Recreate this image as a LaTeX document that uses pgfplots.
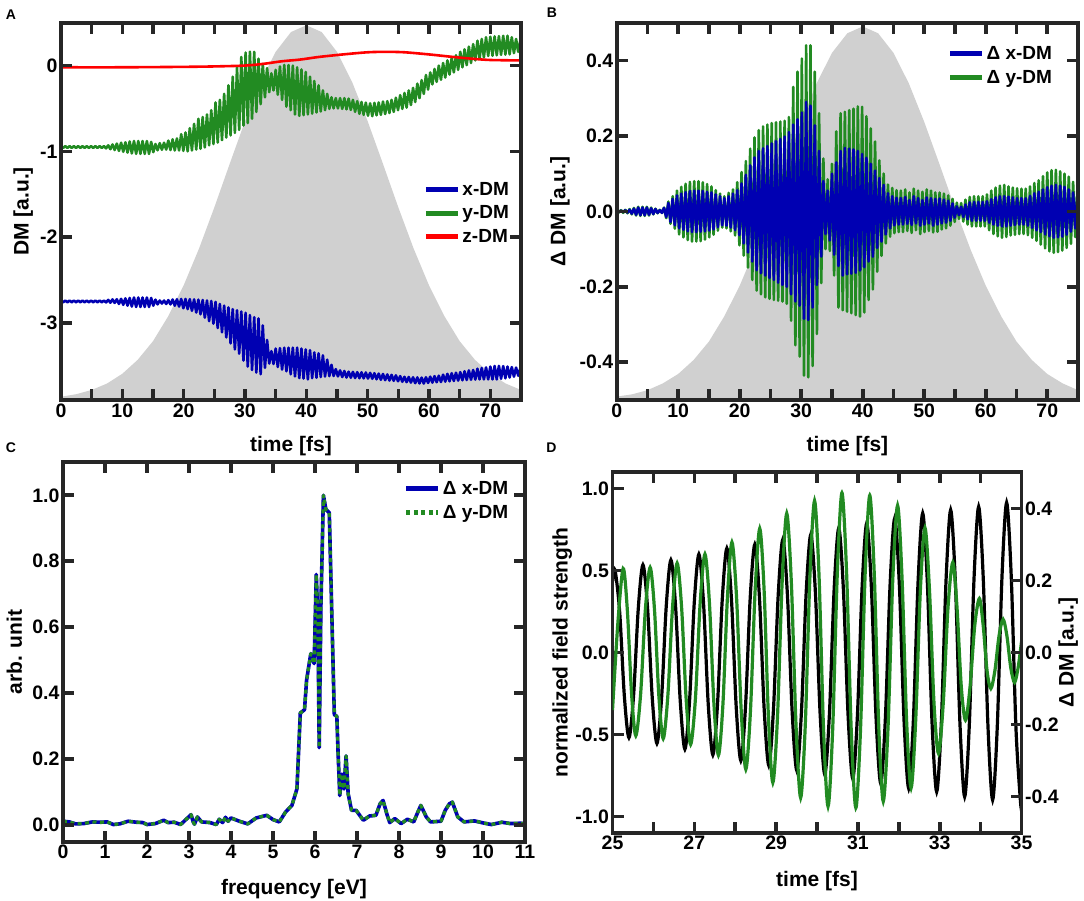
\documentclass[border=0pt]{standalone}
\usepackage{fontspec}
\setmainfont{Liberation Sans}
\usepackage{pgfplots}
\pgfplotsset{compat=1.18}
\usepackage{pgfplotstable}
\definecolor{fr}{RGB}{38,38,38}
\definecolor{cblue}{RGB}{0,0,178}
\definecolor{cgreen}{RGB}{34,139,34}
\definecolor{cred}{RGB}{255,0,0}
\definecolor{cgray}{RGB}{208,208,208}
\tikzset{labfont/.style={font=\fontsize{21}{24}\selectfont\bfseries, color=black}}
\pgfplotsset{
 myax/.style={scale only axis, axis on top,
   axis line style={line width=3.8pt, color=fr},
   every tick/.append style={line width=3.6pt, color=fr},
   major tick length=11pt, minor tick length=11pt,
   tick align=inside,
   tick label style={font=\fontsize{19.5}{22}\selectfont\bfseries, color=black},
   /pgf/number format/assume math mode=true,
   legend style={draw=none, fill=none, font=\fontsize{19}{22}\selectfont\bfseries, cells={anchor=west}, row sep=5pt},
   legend image code/.code={\draw[#1, line width=5pt] (0pt,0pt) -- (32pt,0pt);},
 }
}
\begin{document}
\pgfplotstableread{
t ax ay bx by
0.00 -2.74 -0.94 0.002 0.003
0.35 -2.76 -0.96 -0.002 -0.003
0.70 -2.74 -0.94 0.002 0.003
1.05 -2.76 -0.96 -0.002 -0.004
1.40 -2.74 -0.94 0.003 0.004
1.75 -2.76 -0.96 -0.003 -0.005
2.10 -2.74 -0.94 0.004 0.006
2.45 -2.76 -0.96 -0.006 -0.008
2.80 -2.74 -0.94 0.007 0.009
3.15 -2.76 -0.96 -0.009 -0.011
3.50 -2.74 -0.94 0.010 0.012
3.85 -2.76 -0.96 -0.010 -0.012
4.20 -2.74 -0.94 0.010 0.012
4.55 -2.76 -0.96 -0.010 -0.012
4.90 -2.74 -0.94 0.010 0.012
5.25 -2.76 -0.96 -0.009 -0.011
5.60 -2.74 -0.94 0.008 0.010
5.95 -2.76 -0.96 -0.007 -0.008
6.30 -2.74 -0.94 0.006 0.007
6.65 -2.76 -0.96 -0.004 -0.005
7.00 -2.74 -0.94 0.003 0.004
7.35 -2.762 -0.965 -0.004 -0.004
7.70 -2.733 -0.93 0.009 0.010
8.05 -2.765 -0.975 -0.015 -0.018
8.40 -2.727 -0.92 0.022 0.026
8.75 -2.768 -0.985 -0.028 -0.033
9.10 -2.725 -0.91 0.033 0.040
9.45 -2.78 -0.995 -0.037 -0.046
9.80 -2.72 -0.90 0.042 0.055
10.15 -2.79 -1.005 -0.045 -0.061
10.50 -2.715 -0.895 0.047 0.065
10.85 -2.80 -1.015 -0.049 -0.069
11.20 -2.71 -0.885 0.051 0.073
11.55 -2.81 -1.025 -0.053 -0.076
11.90 -2.705 -0.88 0.054 0.078
12.25 -2.815 -1.03 -0.055 -0.080
12.60 -2.705 -0.88 0.055 0.080
12.95 -2.815 -1.03 -0.055 -0.080
13.30 -2.705 -0.88 0.055 0.080
13.65 -2.815 -1.03 -0.054 -0.079
14.00 -2.705 -0.88 0.054 0.077
14.35 -2.815 -1.03 -0.053 -0.075
14.70 -2.71 -0.89 0.052 0.072
15.05 -2.80 -1.01 -0.051 -0.069
15.40 -2.73 -0.915 0.050 0.066
15.75 -2.785 -0.988 -0.048 -0.062
16.10 -2.74 -0.905 0.045 0.056
16.45 -2.775 -0.982 -0.042 -0.051
16.80 -2.74 -0.90 0.040 0.047
17.15 -2.78 -0.98 -0.037 -0.043
17.50 -2.735 -0.875 0.035 0.040
17.85 -2.785 -0.985 -0.038 -0.045
18.20 -2.728 -0.86 0.040 0.049
18.55 -2.80 -0.99 -0.043 -0.053
18.90 -2.725 -0.85 0.047 0.058
19.25 -2.81 -0.99 -0.050 -0.064
19.60 -2.722 -0.80 0.056 0.077
19.95 -2.83 -0.995 -0.063 -0.090
20.30 -2.722 -0.78 0.074 0.104
20.65 -2.84 -1.00 -0.085 -0.117
21.00 -2.724 -0.73 0.097 0.133
21.35 -2.86 -0.99 -0.109 -0.149
21.70 -2.727 -0.68 0.122 0.166
22.05 -2.88 -0.98 -0.133 -0.182
22.40 -2.73 -0.62 0.143 0.196
22.75 -2.90 -0.97 -0.156 -0.210
23.10 -2.734 -0.60 0.160 0.215
23.45 -2.94 -0.955 -0.164 -0.220
23.80 -2.74 -0.57 0.167 0.225
24.15 -2.98 -0.93 -0.170 -0.228
24.50 -2.745 -0.52 0.173 0.230
24.85 -3.01 -0.915 -0.177 -0.232
25.20 -2.756 -0.43 0.180 0.234
25.55 -3.06 -0.898 -0.182 -0.235
25.90 -2.78 -0.40 0.186 0.236
26.25 -3.11 -0.87 -0.189 -0.237
26.60 -2.80 -0.33 0.192 0.238
26.95 -3.17 -0.84 -0.195 -0.239
27.30 -2.82 -0.23 0.198 0.240
27.65 -3.24 -0.815 -0.200 -0.245
28.00 -2.84 -0.13 0.210 0.250
28.35 -3.31 -0.785 -0.220 -0.290
28.70 -2.854 -0.02 0.230 0.330
29.05 -3.36 -0.75 -0.239 -0.355
29.40 -2.868 0.10 0.244 0.370
29.75 -3.44 -0.70 -0.250 -0.385
30.10 -2.883 0.152 0.262 0.405
30.45 -3.51 -0.67 -0.285 -0.435
30.80 -2.91 0.162 0.290 0.440
31.15 -3.55 -0.62 -0.288 -0.440
31.50 -2.935 0.16 0.280 0.440
31.85 -3.58 -0.54 -0.255 -0.410
32.20 -2.95 0.08 0.228 0.370
32.55 -3.60 -0.45 -0.195 -0.325
32.90 -3.03 0.02 0.160 0.260
33.25 -3.525 -0.37 -0.120 -0.190
33.60 -3.20 -0.03 0.080 0.140
33.95 -3.475 -0.31 -0.060 -0.100
34.30 -3.33 -0.09 0.055 0.085
34.65 -3.48 -0.29 -0.077 -0.105
35.00 -3.30 -0.05 0.100 0.126
35.35 -3.515 -0.34 -0.115 -0.170
35.70 -3.295 -0.01 0.130 0.212
36.05 -3.545 -0.40 -0.145 -0.255
36.40 -3.29 0.008 0.160 0.260
36.75 -3.565 -0.48 -0.170 -0.262
37.10 -3.29 0.006 0.168 0.264
37.45 -3.60 -0.52 -0.167 -0.266
37.80 -3.29 0.00 0.166 0.268
38.15 -3.625 -0.57 -0.165 -0.270
38.50 -3.29 -0.02 0.164 0.272
38.85 -3.645 -0.587 -0.163 -0.275
39.20 -3.30 -0.045 0.160 0.278
39.55 -3.65 -0.578 -0.157 -0.279
39.90 -3.31 -0.075 0.152 0.277
40.25 -3.66 -0.57 -0.148 -0.268
40.60 -3.32 -0.13 0.142 0.252
40.95 -3.645 -0.56 -0.133 -0.235
41.30 -3.345 -0.18 0.126 0.220
41.65 -3.64 -0.547 -0.120 -0.207
42.00 -3.355 -0.23 0.108 0.185
42.35 -3.632 -0.535 -0.097 -0.160
42.70 -3.38 -0.29 0.088 0.135
43.05 -3.626 -0.52 -0.080 -0.118
43.40 -3.43 -0.33 0.070 0.100
43.75 -3.622 -0.505 -0.061 -0.085
44.10 -3.49 -0.37 0.048 0.071
44.45 -3.62 -0.50 -0.045 -0.067
44.80 -3.54 -0.38 0.040 0.062
45.15 -3.625 -0.50 -0.037 -0.058
45.50 -3.555 -0.38 0.036 0.056
45.85 -3.632 -0.505 -0.035 -0.055
46.20 -3.562 -0.38 0.035 0.055
46.55 -3.638 -0.51 -0.035 -0.055
46.90 -3.57 -0.385 0.038 0.058
47.25 -3.64 -0.517 -0.033 -0.052
47.60 -3.572 -0.40 0.030 0.050
47.95 -3.644 -0.54 -0.036 -0.057
48.30 -3.575 -0.415 0.040 0.060
48.65 -3.646 -0.562 -0.032 -0.050
49.00 -3.577 -0.425 0.035 0.055
49.35 -3.648 -0.575 -0.038 -0.060
49.70 -3.579 -0.432 0.030 0.052
50.05 -3.650 -0.585 -0.035 -0.055
50.40 -3.583 -0.44 0.037 0.058
50.75 -3.652 -0.59 -0.032 -0.052
51.10 -3.588 -0.435 0.035 0.055
51.45 -3.658 -0.58 -0.038 -0.056
51.80 -3.592 -0.43 0.033 0.050
52.15 -3.664 -0.574 -0.035 -0.054
52.50 -3.597 -0.42 0.034 0.050
52.85 -3.669 -0.565 -0.032 -0.048
53.20 -3.602 -0.415 0.031 0.047
53.55 -3.673 -0.553 -0.030 -0.045
53.90 -3.607 -0.40 0.028 0.042
54.25 -3.676 -0.54 -0.025 -0.038
54.60 -3.612 -0.375 0.021 0.033
54.95 -3.681 -0.52 -0.017 -0.028
55.30 -3.622 -0.345 0.013 0.023
55.65 -3.687 -0.505 -0.010 -0.020
56.00 -3.630 -0.32 0.012 0.022
56.35 -3.692 -0.49 -0.015 -0.027
56.70 -3.632 -0.29 0.018 0.031
57.05 -3.697 -0.46 -0.021 -0.035
57.40 -3.635 -0.26 0.024 0.038
57.75 -3.704 -0.425 -0.025 -0.040
58.10 -3.637 -0.21 0.025 0.040
58.45 -3.707 -0.38 -0.025 -0.040
58.80 -3.639 -0.17 0.025 0.040
59.15 -3.708 -0.33 -0.025 -0.040
59.50 -3.635 -0.11 0.025 0.040
59.85 -3.701 -0.28 -0.025 -0.040
60.20 -3.628 -0.08 0.027 0.045
60.55 -3.697 -0.22 -0.030 -0.050
60.90 -3.622 -0.04 0.032 0.055
61.25 -3.693 -0.19 -0.035 -0.060
61.60 -3.617 0.00 0.037 0.063
61.95 -3.690 -0.165 -0.038 -0.066
62.30 -3.605 0.03 0.040 0.068
62.65 -3.686 -0.14 -0.040 -0.070
63.00 -3.595 0.06 0.040 0.070
63.35 -3.682 -0.105 -0.040 -0.068
63.70 -3.588 0.09 0.039 0.066
64.05 -3.678 -0.08 -0.038 -0.064
64.40 -3.582 0.12 0.037 0.063
64.75 -3.674 -0.05 -0.036 -0.062
65.10 -3.575 0.16 0.035 0.061
65.45 -3.67 -0.02 -0.035 -0.060
65.80 -3.565 0.19 0.035 0.060
66.15 -3.667 0.005 -0.035 -0.060
66.50 -3.555 0.22 0.035 0.060
66.85 -3.664 0.03 -0.038 -0.063
67.20 -3.55 0.25 0.041 0.066
67.55 -3.662 0.06 -0.044 -0.070
67.90 -3.535 0.29 0.048 0.075
68.25 -3.66 0.08 -0.050 -0.078
68.60 -3.527 0.31 0.052 0.082
68.95 -3.66 0.095 -0.055 -0.088
69.30 -3.52 0.33 0.058 0.093
69.65 -3.66 0.112 -0.061 -0.098
70.00 -3.51 0.336 0.064 0.103
70.35 -3.66 0.115 -0.066 -0.106
70.70 -3.503 0.34 0.068 0.109
71.05 -3.66 0.12 -0.070 -0.110
71.40 -3.502 0.343 0.070 0.110
71.75 -3.653 0.125 -0.069 -0.108
72.10 -3.505 0.347 0.068 0.106
72.45 -3.647 0.128 -0.067 -0.104
72.80 -3.51 0.348 0.065 0.100
73.15 -3.638 0.131 -0.062 -0.097
73.50 -3.516 0.33 0.058 0.092
73.85 -3.628 0.145 -0.054 -0.086
74.20 -3.522 0.31 0.050 0.078
74.55 -3.617 0.16 -0.045 -0.068
74.90 -3.53 0.29 0.041 0.061
75.25 -3.61 0.17 -0.040 -0.060
}\datAB
\begin{tikzpicture}
\path[use as bounding box] (0,0) rectangle (1084pt,900pt);
% ---------- A ----------
\begin{axis}[myax, at={(61pt,500pt)}, anchor=south west, width=460pt, height=377.3pt,
  xmin=0, xmax=75, ymin=-3.9, ymax=0.5,
  xtick={0,10,...,70}, minor xtick={5,15,...,75},
  ytick={-3,-2,-1,0}, yticklabels={-3,-2,-1,0},
  xlabel={time [fs]}, ylabel={DM [a.u.]},
  every axis x label/.style={at={(axis description cs:0.5,-0.122)}, anchor=center, labfont},
  every axis y label/.style={at={(axis description cs:-0.082,0.5)}, rotate=90, anchor=center, labfont},
  legend style={at={(axis description cs:0.985,0.588)}, anchor=north east}]
\addplot[draw=none, fill=cgray, forget plot] coordinates {(0,-3.9)(0,-3.862)(2.5,-3.832)(5,-3.783)(7.5,-3.708)(10,-3.594)(12.5,-3.432)(15,-3.214)(17.5,-2.921)(20,-2.563)(22.5,-2.135)(25,-1.654)(27.5,-1.147)(30,-0.649)(32.5,-0.198)(35,0.160)(37.5,0.391)(40,0.47)(42.5,0.391)(45,0.160)(47.5,-0.198)(50,-0.649)(52.5,-1.147)(55,-1.654)(57.5,-2.135)(60,-2.563)(62.5,-2.921)(65,-3.214)(67.5,-3.432)(70,-3.594)(72.5,-3.708)(75,-3.783)(75,-3.9)} -- cycle;
\addplot[cblue, line width=2.6pt, line join=round, no marks] table[x=t, y=ax] {\datAB};
\addlegendentry{x-DM}
\addplot[cgreen, line width=2.6pt, line join=round, no marks] table[x=t, y=ay] {\datAB};
\addlegendentry{y-DM}
\addplot[cred, line width=2.6pt, smooth, no marks] coordinates {(0,-0.02)(10,-0.02)(20,-0.015)(25,-0.01)(30,0.0)(33,0.02)(36,0.05)(39,0.07)(42,0.10)(46,0.13)(50,0.155)(53,0.16)(56,0.155)(60,0.13)(64,0.10)(67,0.08)(70,0.065)(75,0.06)};
\addlegendentry{z-DM}
\end{axis}
% ---------- B ----------
\begin{axis}[myax, at={(616.7pt,500pt)}, anchor=south west, width=461.3pt, height=377.3pt,
  xmin=0, xmax=75, ymin=-0.5, ymax=0.5,
  xtick={0,10,...,70}, minor xtick={5,15,...,75},
  ytick={-0.4,-0.2,0,0.2,0.4}, yticklabels={-0.4,-0.2,0.0,0.2,0.4},
  xlabel={time [fs]}, ylabel={Δ DM [a.u.]},
  every axis x label/.style={at={(axis description cs:0.5,-0.122)}, anchor=center, labfont},
  every axis y label/.style={at={(axis description cs:-0.123,0.5)}, rotate=90, anchor=center, labfont},
  legend style={at={(axis description cs:0.955,0.948)}, anchor=north east}, reverse legend]
\addplot[draw=none, fill=cgray, forget plot] coordinates {(0,-0.5)(0,-0.491)(2.5,-0.485)(5,-0.474)(7.5,-0.456)(10,-0.431)(12.5,-0.394)(15,-0.345)(17.5,-0.278)(20,-0.197)(22.5,-0.100)(25,0.009)(27.5,0.124)(30,0.237)(32.5,0.339)(35,0.420)(37.5,0.472)(40,0.49)(42.5,0.472)(45,0.420)(47.5,0.339)(50,0.237)(52.5,0.124)(55,0.009)(57.5,-0.100)(60,-0.197)(62.5,-0.278)(65,-0.345)(67.5,-0.394)(70,-0.431)(72.5,-0.456)(75,-0.474)(75,-0.5)} -- cycle;
\addplot[cgreen, line width=2.6pt, line join=round, no marks] table[x=t, y=by] {\datAB};
\addlegendentry{Δ y-DM}
\addplot[cblue, line width=2.6pt, line join=round, no marks] table[x=t, y=bx] {\datAB};
\addlegendentry{Δ x-DM}
\end{axis}
% ---------- C ----------
\begin{axis}[myax, at={(63pt,58.3pt)}, anchor=south west, width=462pt, height=379.4pt,
  xmin=0, xmax=11, ymin=-0.05, ymax=1.1,
  xtick={0,1,...,11},
  ytick={0,0.2,0.4,0.6,0.8,1}, yticklabels={0.0,0.2,0.4,0.6,0.8,1.0},
  xlabel={frequency [eV]}, ylabel={arb. unit},
  every axis x label/.style={at={(axis description cs:0.5,-0.125)}, anchor=center, labfont},
  every axis y label/.style={at={(axis description cs:-0.105,0.5)}, rotate=90, anchor=center, labfont},
  legend style={at={(axis description cs:0.975,0.96)}, anchor=north east}]
\addplot[cblue, line width=3.6pt, line join=round, no marks] coordinates {(0,0.012)(0.15,0.01)(0.3,0.004)(0.5,0.005)(0.7,0.01)(0.9,0.009)(1.05,0.01)(1.2,0.002)(1.35,0.004)(1.55,0.012)(1.75,0.009)(1.9,0.008)(2.0,0.002)(2.2,0.005)(2.4,0.015)(2.5,0.008)(2.65,0.009)(2.8,0.002)(2.95,0.02)(3.05,0.032)(3.1,0.01)(3.13,0.003)(3.2,0.025)(3.3,0.01)(3.5,0.008)(3.65,0.002)(3.72,0.018)(3.8,0.008)(3.87,0.024)(3.93,0.012)(4.0,0.022)(4.2,0.012)(4.4,0.004)(4.6,0.022)(4.85,0.03)(5.0,0.017)(5.15,0.01)(5.3,0.04)(5.45,0.06)(5.57,0.11)(5.65,0.34)(5.75,0.35)(5.8,0.44)(5.9,0.52)(5.98,0.49)(6.03,0.76)(6.07,0.62)(6.1,0.235)(6.14,0.66)(6.2,1.0)(6.26,0.957)(6.34,0.947)(6.42,0.54)(6.46,0.335)(6.52,0.33)(6.55,0.218)(6.59,0.09)(6.64,0.155)(6.69,0.11)(6.74,0.21)(6.79,0.095)(6.87,0.045)(6.98,0.045)(7.15,0.015)(7.3,0.028)(7.45,0.03)(7.55,0.065)(7.62,0.075)(7.72,0.03)(7.78,0.008)(7.9,0.02)(8.05,0.005)(8.2,0.018)(8.35,0.01)(8.45,0.04)(8.52,0.06)(8.65,0.025)(8.75,0.01)(9.0,0.012)(9.1,0.045)(9.2,0.065)(9.27,0.07)(9.4,0.025)(9.55,0.01)(9.8,0.013)(10.0,0.007)(10.2,0.002)(10.45,0.009)(10.65,0.005)(10.9,0.006)(11,0.004)};
\addlegendentry{Δ x-DM}
\addplot[cgreen, line width=3.2pt, dash pattern=on 4pt off 3.5pt, line join=round, no marks] coordinates {(0,0.012)(0.15,0.01)(0.3,0.004)(0.5,0.005)(0.7,0.01)(0.9,0.009)(1.05,0.01)(1.2,0.002)(1.35,0.004)(1.55,0.012)(1.75,0.009)(1.9,0.008)(2.0,0.002)(2.2,0.005)(2.4,0.015)(2.5,0.008)(2.65,0.009)(2.8,0.002)(2.95,0.02)(3.05,0.032)(3.1,0.01)(3.13,0.003)(3.2,0.025)(3.3,0.01)(3.5,0.008)(3.65,0.002)(3.72,0.018)(3.8,0.008)(3.87,0.024)(3.93,0.012)(4.0,0.022)(4.2,0.012)(4.4,0.004)(4.6,0.022)(4.85,0.03)(5.0,0.017)(5.15,0.01)(5.3,0.04)(5.45,0.06)(5.57,0.11)(5.65,0.34)(5.75,0.35)(5.8,0.44)(5.9,0.52)(5.98,0.49)(6.03,0.76)(6.07,0.62)(6.1,0.235)(6.14,0.66)(6.2,1.0)(6.26,0.957)(6.34,0.947)(6.42,0.54)(6.46,0.335)(6.52,0.33)(6.55,0.218)(6.59,0.09)(6.64,0.155)(6.69,0.11)(6.74,0.21)(6.79,0.095)(6.87,0.045)(6.98,0.045)(7.15,0.015)(7.3,0.028)(7.45,0.03)(7.55,0.065)(7.62,0.075)(7.72,0.03)(7.78,0.008)(7.9,0.02)(8.05,0.005)(8.2,0.018)(8.35,0.01)(8.45,0.04)(8.52,0.06)(8.65,0.025)(8.75,0.01)(9.0,0.012)(9.1,0.045)(9.2,0.065)(9.27,0.07)(9.4,0.025)(9.55,0.01)(9.8,0.013)(10.0,0.007)(10.2,0.002)(10.45,0.009)(10.65,0.005)(10.9,0.006)(11,0.004)};
\addlegendentry{Δ y-DM}
\end{axis}
% ---------- D ----------
\begin{axis}[myax, at={(612.5pt,67.3pt)}, anchor=south west, width=409pt, height=360.4pt,
  xmin=25, xmax=35, ymin=-1.1, ymax=1.1, ytick pos=left,
  xtick={25,27,...,35}, minor xtick={26,28,...,34},
  ytick={-1,-0.5,0,0.5,1}, yticklabels={-1.0,-0.5,0.0,0.5,1.0},
  xlabel={time [fs]}, ylabel={normalized field strength},
  every axis x label/.style={at={(axis description cs:0.5,-0.134)}, anchor=center, labfont},
  every axis y label/.style={at={(axis description cs:-0.123,0.5)}, rotate=90, anchor=center, labfont}]
\addplot[black, line width=3.2pt, smooth, no marks] coordinates {(25.0,0.43)(25.06,0.504)(25.174,0.252)(25.288,-0.26)(25.402,-0.52)(25.516,-0.26)(25.63,0.268)(25.744,0.535)(25.858,0.268)(25.972,-0.278)(26.086,-0.555)(26.2,-0.278)(26.314,0.283)(26.428,0.565)(26.542,0.283)(26.656,-0.295)(26.77,-0.59)(26.884,-0.295)(26.998,0.30)(27.112,0.60)(27.226,0.30)(27.34,-0.313)(27.454,-0.625)(27.568,-0.313)(27.682,0.318)(27.796,0.636)(27.91,0.318)(28.024,-0.33)(28.138,-0.66)(28.252,-0.33)(28.366,0.33)(28.48,0.66)(28.594,0.33)(28.708,-0.345)(28.822,-0.69)(28.936,-0.345)(29.05,0.345)(29.164,0.69)(29.278,0.345)(29.392,-0.36)(29.506,-0.72)(29.62,-0.36)(29.734,0.36)(29.848,0.72)(29.962,0.36)(30.076,-0.373)(30.19,-0.745)(30.304,-0.373)(30.418,0.38)(30.532,0.76)(30.646,0.38)(30.76,-0.385)(30.874,-0.77)(30.988,-0.385)(31.102,0.395)(31.216,0.79)(31.33,0.395)(31.444,-0.40)(31.558,-0.80)(31.672,-0.40)(31.786,0.41)(31.90,0.82)(32.014,0.41)(32.128,-0.415)(32.242,-0.83)(32.356,-0.415)(32.47,0.425)(32.584,0.85)(32.698,0.425)(32.812,-0.425)(32.926,-0.85)(33.04,-0.425)(33.154,0.435)(33.268,0.87)(33.382,0.435)(33.496,-0.44)(33.61,-0.88)(33.724,-0.44)(33.838,0.445)(33.952,0.89)(34.066,0.445)(34.18,-0.45)(34.294,-0.90)(34.408,-0.45)(34.522,0.458)(34.636,0.915)(34.75,0.458)(34.864,-0.46)(34.978,-0.92)(35.0,-0.918)};
\end{axis}
\begin{axis}[myax, at={(612.5pt,67.3pt)}, anchor=south west, width=409pt, height=360.4pt,
  xmin=25, xmax=35, ymin=-0.5, ymax=0.5,
  axis x line=none, axis y line*=right,
  ytick={-0.4,-0.2,0,0.2,0.4}, yticklabels={-0.4,-0.2,0.0,0.2,0.4},
  ylabel={Δ DM [a.u.]},
  every axis y label/.style={at={(axis description cs:1.114,0.5)}, rotate=90, anchor=center, labfont}]
\addplot[cgreen, line width=3.2pt, smooth, no marks] coordinates {(25.0,-0.16)(25.13,0.08)(25.26,0.233)(25.363,0.117)(25.467,-0.116)(25.57,-0.231)(25.687,-0.116)(25.803,0.118)(25.92,0.236)(26.027,0.118)(26.133,-0.120)(26.24,-0.239)(26.353,-0.120)(26.467,0.124)(26.58,0.248)(26.69,0.124)(26.80,-0.128)(26.91,-0.255)(27.027,-0.128)(27.143,0.137)(27.26,0.273)(27.37,0.137)(27.48,-0.143)(27.59,-0.285)(27.70,-0.143)(27.81,0.153)(27.92,0.306)(28.033,0.153)(28.147,-0.162)(28.26,-0.324)(28.373,-0.162)(28.487,0.172)(28.60,0.344)(28.707,0.172)(28.813,-0.181)(28.92,-0.361)(29.033,-0.181)(29.147,0.193)(29.26,0.386)(29.373,0.193)(29.487,-0.202)(29.60,-0.403)(29.713,-0.202)(29.827,0.211)(29.94,0.421)(30.05,0.211)(30.16,-0.214)(30.27,-0.427)(30.383,-0.214)(30.497,0.222)(30.61,0.443)(30.723,0.222)(30.837,-0.216)(30.95,-0.431)(31.063,-0.216)(31.177,0.218)(31.29,0.436)(31.40,0.218)(31.51,-0.207)(31.62,-0.413)(31.737,-0.207)(31.853,0.204)(31.97,0.408)(32.08,0.204)(32.19,-0.188)(32.30,-0.376)(32.413,-0.188)(32.527,0.173)(32.64,0.346)(32.75,0.173)(32.86,-0.14)(32.97,-0.28)(33.087,-0.14)(33.203,0.125)(33.32,0.25)(33.423,0.125)(33.527,-0.094)(33.63,-0.188)(33.743,-0.094)(33.857,0.075)(33.97,0.15)(34.063,0.075)(34.157,-0.05)(34.25,-0.10)(34.35,-0.05)(34.45,0.046)(34.55,0.092)(34.643,0.046)(34.737,-0.042)(34.83,-0.083)(34.92,-0.04)(35.0,0.03)};
\end{axis}
\node[font=\fontsize{14}{16}\selectfont\bfseries] at (11pt,885.5pt) {A};
\node[font=\fontsize{14}{16}\selectfont\bfseries] at (552pt,887pt) {B};
\node[font=\fontsize{14}{16}\selectfont\bfseries] at (11pt,452pt) {C};
\node[font=\fontsize{14}{16}\selectfont\bfseries] at (551.5pt,452pt) {D};
\end{tikzpicture}
\end{document}
